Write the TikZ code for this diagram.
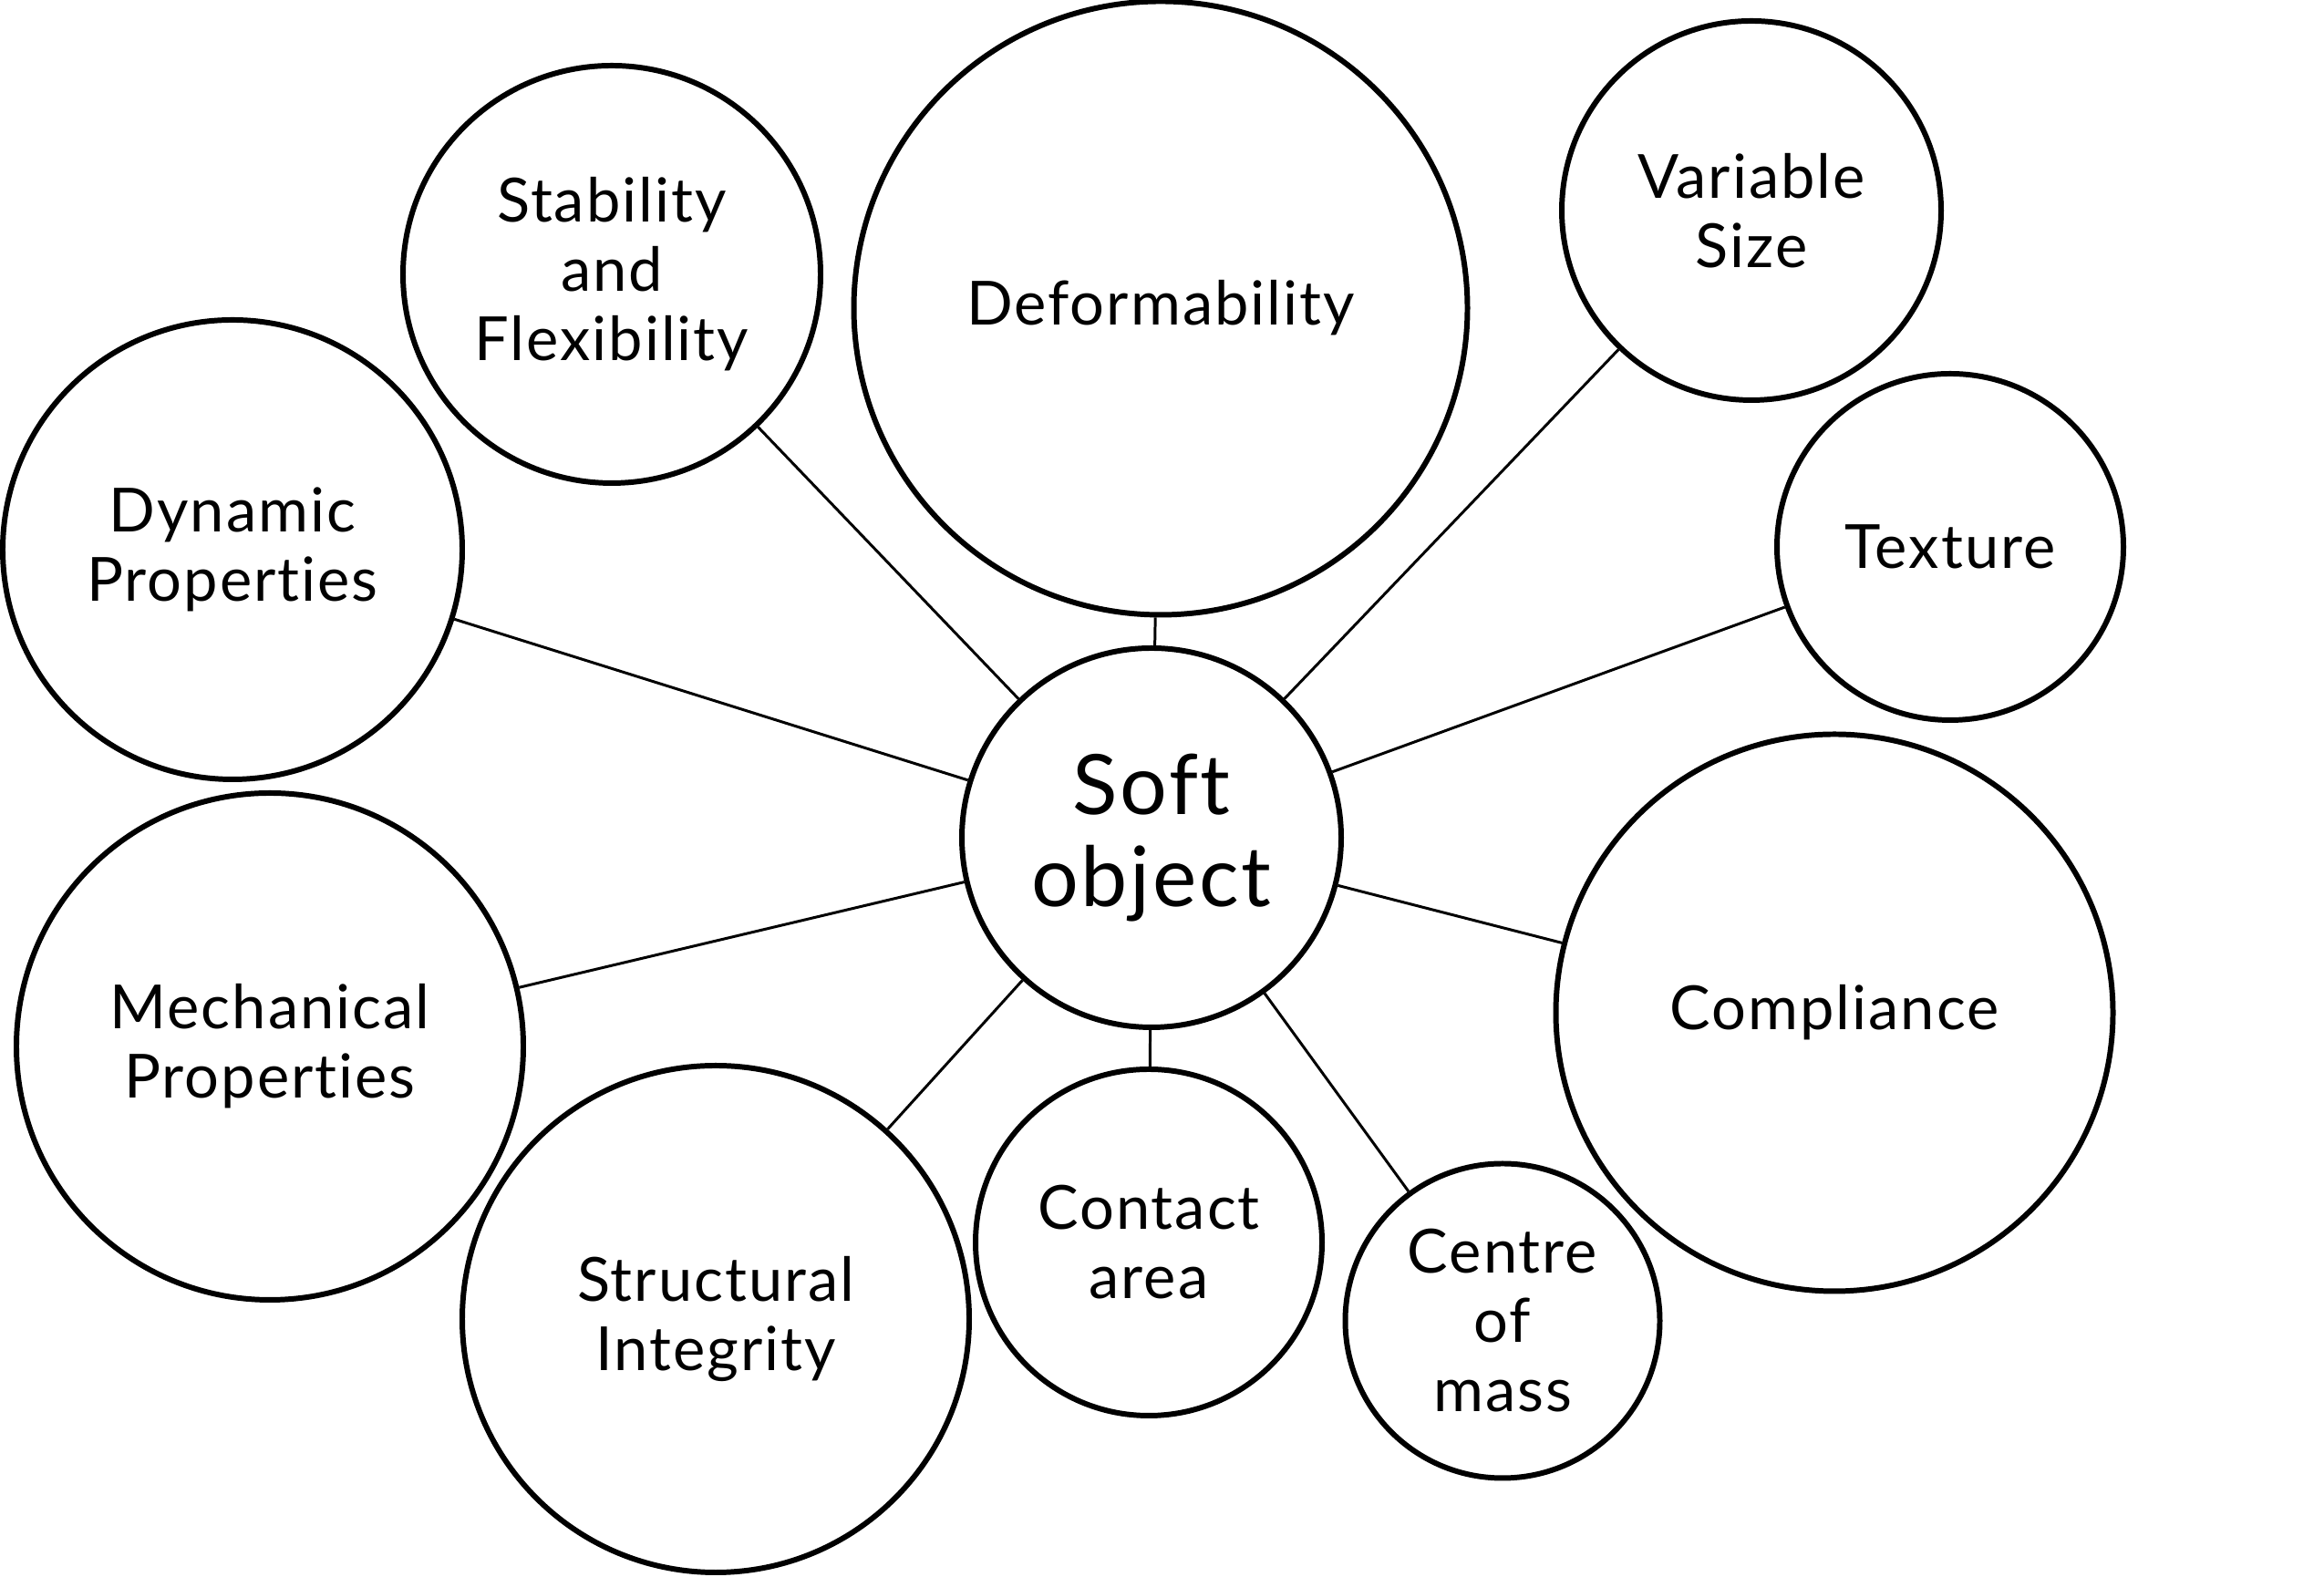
\documentclass[tikz,border=0pt]{standalone}
\usepackage{fontspec}
\setmainfont{Lato}[Ligatures={NoCommon},LetterSpace=3]
\usepackage{tikz}
\usetikzlibrary{positioning}

\begin{document}
\begin{tikzpicture}[
  prop/.style={circle,draw,line width=1.7pt,inner sep=0pt,align=center,
    font=\fontsize{19}{21.6}\selectfont},
  hub/.style={prop,font=\fontsize{26}{28.7}\selectfont},
  link/.style={line width=0.85pt}]
\useasboundingbox (0,0) rectangle (25.49,17.30);
\node[hub,minimum size=4.16cm] (soft) at (12.63,8.11) {Soft\\object};
\node[prop,minimum size=6.73cm] (deform) at (12.73,13.92) {Deformability};
\node[prop,minimum size=4.58cm] (stab) at (6.71,14.29) {Stability\\and\\Flexibility};
\node[prop,minimum size=4.16cm] (size) at (19.21,14.99) {Variable\\Size};
\node[prop,minimum size=3.80cm] (texture) at (21.39,11.30) {Texture};
\node[prop,minimum size=5.04cm] (dyn) at (2.55,11.27) {Dynamic\\Properties};
\node[prop,minimum size=5.56cm] (mech) at (2.96,5.82) {Mechanical\\Properties};
\node[prop,minimum size=5.56cm] (struct) at (7.85,2.83) {Structural\\Integrity};
\node[prop,minimum size=3.80cm] (contact) at (12.60,3.67) {Contact\\area};
\node[prop,minimum size=3.45cm] (mass) at (16.48,2.81) {Centre\\of\\mass};
\node[prop,minimum size=6.11cm] (compl) at (20.12,6.19) {Compliance};
% spokes
\foreach \n in {deform,stab,size,texture,dyn,mech,struct,contact,mass,compl}
  \draw[link] (soft) -- (\n);
\end{tikzpicture}
\end{document}
